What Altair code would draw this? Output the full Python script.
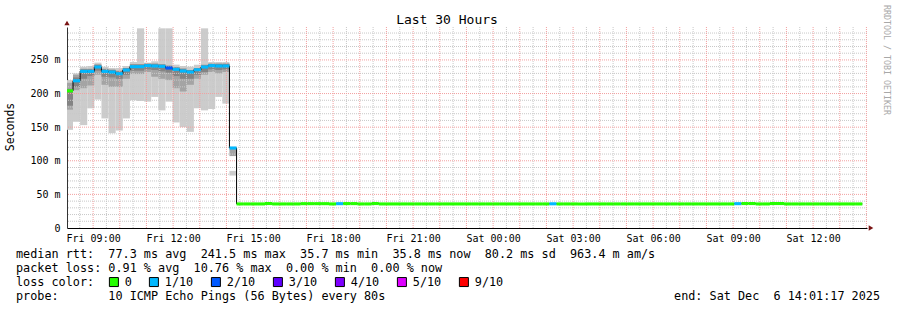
import altair as alt
import pandas as pd
import numpy as np

FONT = "DejaVu Sans Mono"

# ---- time axis (hours since Fri 00:00) ----
T_START = 8 + 1 / 60 + 17 / 3600      # Fri 08:01:17
T_END = T_START + 30                   # Sat 14:01:17
FIRST_STEP = 7.98                      # start of first 16-minute step
STEP_H = 16 / 60

# ---- median rtt per 16-minute step (ms) ----
median_high = [204, 219, 233, 233, 239.5, 233, 232, 229.5, 235, 240, 240, 241.5,
               241, 240.5, 238, 236, 233.5, 232, 235.5, 239.5, 241.5, 241, 241, 119]
median_flat = [35.8, 35.8, 35.8, 35.8, 36.4, 35.8, 35.8, 35.8, 35.8, 36.2,
               36.2, 36.2, 36.2, 35.8, 36.2, 36.3, 36.3, 35.8, 35.8, 36.4,
               35.8, 35.8, 35.8, 35.8, 35.8, 35.8, 35.8, 35.8, 35.8, 35.8,
               35.8, 35.8, 35.8, 35.8, 35.8, 35.8, 35.8, 35.8, 35.8, 35.8,
               35.8, 35.8, 35.8, 35.8, 36.0, 35.8, 35.8, 35.8, 35.8, 35.8,
               35.8, 35.8, 35.8, 35.8, 35.8, 35.8, 35.8, 35.8, 35.8, 35.8,
               35.8, 35.8, 35.8, 35.8, 35.8, 35.8, 35.8, 35.8, 35.8, 35.8,
               36.2, 36.4, 36.4, 35.8, 35.8, 36.4, 36.4, 35.8, 35.8, 35.8,
               35.8, 35.8, 35.8, 35.8, 35.8, 35.8, 35.8, 35.8]

loss_high = ["0"] + ["1/10"] * 13 + ["2/10"] + ["1/10"] * 9
loss_flat = ["0"] * 88
for i in (14, 44, 70):
    loss_flat[i] = "1/10"

# ---- smoke bands for the first 24 steps (ms) ----
light_lo = [146, 158, 153, 178, 191, 163, 141, 145, 163, 190, 189, 188,
            195, 175, 188, 157, 150, 143, 178, 175, 177, 195, 185, 78]
light_hi = [220, 230, 240, 241, 246, 240, 238, 238, 241, 247, 297, 246,
            248, 297, 297, 243, 241, 240, 243, 297, 247, 247, 247, 85]
mid_lo = [176, 205, 208, 212, 228, 213, 210, 210, 222, 229, 229, 232,
          225, 222, 220, 208, 203, 213, 222, 228, 232, 230, 232, 107]
mid_hi = [216, 228, 237, 237, 243, 237, 236, 234, 238, 244, 244, 245,
          245, 244, 242, 239, 237, 235, 238, 243, 245, 245, 245, 118]
dark_lo = [182, 210, 222, 226, 234, 225, 224, 222, 228, 234, 234, 236,
           235, 233, 231, 226, 222, 222, 228, 232, 236, 235, 236, None]
dark_hi = [207, 224, 236, 236, 243, 236, 235, 233, 238, 243, 243, 244,
           244, 243, 241, 239, 237, 235, 238, 242, 244, 244, 244, None]

loss_labels = ["0", "1/10", "2/10", "3/10", "4/10", "5/10", "9/10"]
loss_colors = ["#26ff00", "#00b8ff", "#0059ff", "#5e00ff", "#7e00ff", "#dd00ff", "#ff0000"]

# ---- tables ----
medians = median_high + median_flat
losses = loss_high + loss_flat
n = len(medians)
starts = [FIRST_STEP + i * STEP_H for i in range(n)]
df = pd.DataFrame({"t": starts, "t2": [s + STEP_H for s in starts],
                   "median": medians, "loss": losses})
line_df = pd.concat([df[["t", "median"]],
                     pd.DataFrame({"t": [df["t2"].iloc[-1]], "median": [df["median"].iloc[-1]]})],
                    ignore_index=True)
smoke = pd.DataFrame({"t": starts[:24], "t2": [s + STEP_H for s in starts[:24]],
                      "light_lo": light_lo, "light_hi": light_hi,
                      "mid_lo": mid_lo, "mid_hi": mid_hi,
                      "dark_lo": dark_lo, "dark_hi": dark_hi})

# grid positions (axis-like)
vminor = pd.DataFrame({"g": np.arange(8.5, 38, 1.0)})
vmajor = pd.DataFrame({"g": np.arange(9, 39, 1.0)})
hminor = pd.DataFrame({"g": [v for v in range(10, 300, 10) if v % 50 != 0]})
hmajor = pd.DataFrame({"g": list(range(50, 300, 50))})

x_scale = alt.Scale(domain=[T_START, T_END], nice=False, zero=False)
y_scale = alt.Scale(domain=[0, 299], nice=False, zero=True)

x_axis = alt.Axis(values=list(range(9, 37, 3)),
                  labelExpr="(datum.value < 24 ? 'Fri ' : 'Sat ') + (datum.value % 24 < 10 ? '0' : '') + (datum.value % 24) + ':00'",
                  grid=False, ticks=False, domain=True, domainColor="black", domainWidth=1,
                  labelFont=FONT, labelFontSize=10, labelColor="black", labelPadding=5,
                  labelFlush=False, labelOverlap=False, title=None)
y_axis = alt.Axis(values=list(range(0, 300, 50)),
                  labelExpr="datum.value == 0 ? '0' : datum.value + ' m'",
                  grid=False, ticks=False, domain=True, domainColor="#333333", domainWidth=1,
                  labelFont=FONT, labelFontSize=10, labelColor="black", labelPadding=7,
                  labelOverlap=False, title=None)


def X(f):
    return alt.X(f, type="quantitative", scale=x_scale, axis=x_axis)


def Y(f):
    return alt.Y(f, type="quantitative", scale=y_scale, axis=y_axis)


grid_minor_v = alt.Chart(vminor).mark_rule(color="#c8c8c8", strokeDash=[1, 1], strokeWidth=1).encode(x=X("g"))
grid_minor_h = alt.Chart(hminor).mark_rule(color="#c8c8c8", strokeDash=[1, 1], strokeWidth=1).encode(y=Y("g"))
grid_major_v = alt.Chart(vmajor).mark_rule(color="#f2a0a0", strokeDash=[1, 1], strokeWidth=1).encode(x=X("g"))
grid_major_h = alt.Chart(hmajor).mark_rule(color="#f2a0a0", strokeDash=[1, 1], strokeWidth=1).encode(y=Y("g"))

smoke_base = alt.Chart(smoke)
s_light = smoke_base.mark_rect(color="#cccccc", clip=True).encode(
    x=X("t"), x2="t2", y=Y("light_lo"), y2="light_hi")
s_mid = smoke_base.mark_rect(color="#a4a4a4", clip=True).encode(
    x=X("t"), x2="t2", y=Y("mid_lo"), y2="mid_hi")
s_dark = smoke_base.mark_rect(color="#848484", clip=True).encode(
    x=X("t"), x2="t2", y=Y("dark_lo"), y2="dark_hi")

black_line = alt.Chart(line_df).mark_line(color="black", strokeWidth=1, interpolate="step-after", clip=True).encode(
    x=X("t"), y=Y("median"))

median_band = alt.Chart(df).transform_calculate(
    lo="datum.median - 2.3", hi="datum.median + 2.3"
).mark_rect(clip=True).encode(
    x=X("t"), x2="t2", y=Y("lo:Q"), y2="hi:Q",
    color=alt.Color("loss:N", scale=alt.Scale(domain=loss_labels, range=loss_colors),
                    legend=alt.Legend(orient="none", legendX=41, legendY=249, direction="horizontal",
                                      title=None, symbolType="square", symbolSize=81,
                                      symbolStrokeColor="black", symbolStrokeWidth=1,
                                      labelFont=FONT, labelFontSize=11.8, labelColor="black",
                                      labelOffset=5, columnPadding=15, padding=0))
)

one = pd.DataFrame({"a": [0]})


def txt(s, x, y, size=11.8, align="left", baseline="alphabetic", angle=0, color="black"):
    s = s.replace(" ", "\u00a0")
    return alt.Chart(one).mark_text(text=s, font=FONT, fontSize=size, align=align, baseline=baseline,
                                    angle=angle, color=color).encode(x=alt.value(x), y=alt.value(y))


texts = [
    txt("Last 30 Hours", 380, -7, size=13, align="center", baseline="middle"),
    txt("Seconds", -56, 100, size=11.5, align="center", baseline="middle", angle=270),
    txt("RRDTOOL / TOBI OETIKER", 819, 33, size=8.3, align="center", baseline="middle", angle=90, color="#a8a8a8"),
    txt("median rtt:  77.3 ms avg  241.5 ms max  35.7 ms min  35.8 ms now  80.2 ms sd  963.4 m am/s", -51, 231),
    txt("packet loss: 0.91 % avg  10.76 % max  0.00 % min  0.00 % now", -51, 245),
    txt("loss color:", -51, 259),
    txt("probe:       10 ICMP Echo Pings (56 Bytes) every 80s", -51, 273),
    txt("end: Sat Dec  6 14:01:17 2025", 813, 273, align="right"),
]

arrow_up = alt.Chart(one).mark_point(shape="triangle-up", filled=True, color="#7a1414", size=28, opacity=1).encode(
    x=alt.value(0), y=alt.value(-4))
arrow_right = alt.Chart(one).mark_point(shape="triangle-right", filled=True, color="#7a1414", size=28, opacity=1).encode(
    x=alt.value(804), y=alt.value(201))

chart = alt.layer(
    s_light, s_mid, s_dark,
    grid_minor_v, grid_minor_h, grid_major_v, grid_major_h,
    black_line, median_band,
    arrow_up, arrow_right, *texts
).properties(
    width=800, height=201,
    padding={"left": 67, "top": 27, "right": 30, "bottom": 82},
    autosize=alt.AutoSizeParams(type="none"),
    background="white",
).configure_view(strokeWidth=0)

chart.save("out.html", embed_options={"renderer": "svg", "actions": False})
